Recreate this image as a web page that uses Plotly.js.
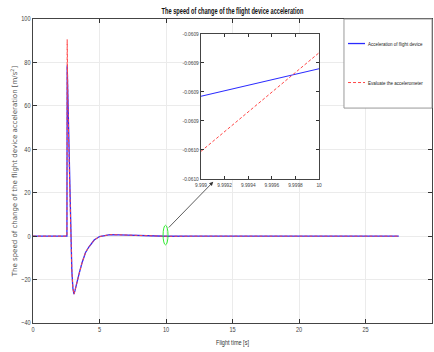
<!DOCTYPE html>
<html>
<head>
<meta charset="utf-8">
<script src="https://cdn.plot.ly/plotly-3.0.1.min.js"></script>
<style>html,body{margin:0;padding:0;background:#fff;}#chart{width:434px;height:352px;}</style>
</head>
<body>
<div id="chart"></div>
<script>
// ---- data ----
var flightTime = [0, 2.55, 2.57, 2.58, 2.62, 2.7, 2.78, 2.85, 2.92, 3.0, 3.08, 3.16, 3.3, 3.5, 3.7, 3.95, 4.2, 4.6, 5.0, 5.4, 5.8, 6.5, 7.5, 8.5, 10, 12, 16, 20, 24, 27.5];
var accelDevice = [0, 0, 78.7, 76, 63, 39, 15, -5, -16, -24, -26.7, -25, -21, -16.5, -12, -7.5, -5, -1.8, -0.2, 0.4, 0.7, 0.6, 0.4, 0.2, -0.06, 0, 0, 0, 0, 0];
var accelEval   = [0, 0, 90.5, 76, 63, 39, 15, -5, -16, -24, -26.7, -25, -21, -16.5, -12, -7.5, -5, -1.8, -0.2, 0.4, 0.7, 0.6, 0.4, 0.2, -0.06, 0, 0, 0, 0, 0];

var zoomTime   = [9.999, 10];
var zoomDevice = [-0.060923, -0.060904];
var zoomEval   = [-0.060961, -0.060893];

var xTicks = [0, 5, 10, 15, 20, 25, 30];
var yTicks = [-40, -20, 0, 20, 40, 60, 80, 100];
var zoomXTicks  = [9.999, 9.9992, 9.9994, 9.9996, 9.9998, 10];
var zoomXLabels = ['9.999', '9.9992', '9.9994', '9.9996', '9.9998', '10'];
var zoomYTicks  = [-0.06098, -0.06096, -0.06094, -0.06092, -0.0609, -0.06088];
var zoomYLabels = ['-0.0610', '-0.0610', '-0.0609', '-0.0609', '-0.0609', '-0.0609'];

var seriesNames = ['Acceleration of flight device', 'Evaluate the accelerometer'];

// ---- styles ----
var NARROW = 'Liberation Sans, Arial, sans-serif';
var BLUE = '#2a2aff', RED = '#ff4646';
var tickFont = {family: NARROW, size: 7, color: '#444'};

var traces = [
  {x: flightTime, y: accelDevice, type: 'scatter', mode: 'lines', name: seriesNames[0],
   legendgroup: 'g1', line: {color: BLUE, width: 1.3}, xaxis: 'x', yaxis: 'y'},
  {x: flightTime, y: accelEval, type: 'scatter', mode: 'lines', name: seriesNames[1],
   legendgroup: 'g2', line: {color: RED, width: 1, dash: '3px,2px'}, xaxis: 'x', yaxis: 'y'},
  {x: zoomTime, y: zoomDevice, type: 'scatter', mode: 'lines', showlegend: false,
   line: {color: BLUE, width: 1.1}, xaxis: 'x2', yaxis: 'y2'},
  {x: zoomTime, y: zoomEval, type: 'scatter', mode: 'lines', showlegend: false,
   line: {color: RED, width: 1, dash: '3px,2px'}, xaxis: 'x2', yaxis: 'y2'}
];

var axisCommon = {
  ticks: 'inside', ticklen: 4, tickcolor: '#333', tickwidth: 1,
  showline: true, linecolor: '#444', linewidth: 1, mirror: 'ticks',
  zeroline: false, tickfont: tickFont
};

var layout = {
  width: 434, height: 352,
  margin: {l: 33, r: 2, t: 19, b: 29, pad: 0, autoexpand: false},
  paper_bgcolor: '#fff', plot_bgcolor: '#fff',
  title: {text: '<b>The speed of change of the flight device acceleration</b>',
          font: {family: NARROW, size: 8.5, color: '#111'},
          xref: 'paper', x: 0.5, xanchor: 'center', yref: 'container', y: 0.969, yanchor: 'middle'},
  xaxis: Object.assign({}, axisCommon, {
    range: [0, 30], tickvals: xTicks, showgrid: true, gridcolor: '#ebebeb', gridwidth: 1,
    title: {text: 'Flight time [s]', font: {family: NARROW, size: 8, color: '#333'}, standoff: 7}
  }),
  yaxis: Object.assign({}, axisCommon, {
    range: [-40, 100], tickvals: yTicks, showgrid: true, gridcolor: '#ebebeb', gridwidth: 1,
    title: {text: 'The speed of change of the flight device acceleration [m/s<sup>2</sup>]',
            font: {family: 'DejaVu Sans, sans-serif', size: 7, color: '#555'}, standoff: 0}
  }),
  xaxis2: Object.assign({}, axisCommon, {
    domain: [0.421, 0.717], anchor: 'y2', range: [9.999, 10],
    tickvals: zoomXTicks, ticktext: zoomXLabels, showgrid: false, ticklen: 3,
    tickfont: {family: NARROW, size: 6, color: '#444'}
  }),
  yaxis2: Object.assign({}, axisCommon, {
    domain: [0.474, 0.951], anchor: 'x2', range: [-0.06098, -0.06088],
    tickvals: zoomYTicks, ticktext: zoomYLabels, showgrid: false, ticklen: 3,
    tickfont: {family: NARROW, size: 6, color: '#444'}
  }),
  showlegend: true,
  legend: {x: 0.777, y: 0.967, xanchor: 'left', yanchor: 'top', bgcolor: 'rgba(0,0,0,0)',
           borderwidth: 0, tracegroupgap: 20, traceorder: 'grouped',
           font: {family: NARROW, size: 6, color: '#222'}},
  shapes: [
    {type: 'rect', xref: 'paper', yref: 'paper', x0: 0.7794, x1: 1.0, y0: 0.707, y1: 1.0,
     fillcolor: '#fff', line: {color: '#999', width: 1}, layer: 'above'},
    {type: 'circle', xref: 'x', yref: 'y', x0: 9.78, x1: 10.15, y0: -4, y1: 5,
     line: {color: '#33ee33', width: 1}, layer: 'above'}
  ],
  annotations: [
    {x: 13.55, y: 25, ax: 10.1, ay: 3.3, xref: 'x', yref: 'y', axref: 'x', ayref: 'y',
     text: '', showarrow: true, arrowhead: 2, arrowsize: 1, arrowwidth: 0.8, arrowcolor: '#333'}
  ]
};

// horizontally condense text (the reference uses a narrow typeface)
function squeeze(el, f) {
  if (el.getAttribute('data-sq')) return;
  el.setAttribute('data-sq', '1');
  var ax = parseFloat(el.getAttribute('x')) || 0;
  var tr = el.getAttribute('transform') || '';
  el.setAttribute('transform', tr + ' translate(' + ax + ',0) scale(' + f + ',1) translate(' + (-ax) + ',0)');
}
function squeezeAll(sel, f) {
  document.querySelectorAll(sel).forEach(function (el) { squeeze(el, f); });
}
function fitWidth(sel, target) {
  document.querySelectorAll(sel).forEach(function (el) {
    if (el.getAttribute('data-sq')) return;
    var w = el.getBBox().width;
    if (w > 0) squeeze(el, target / w);
  });
}
function polish() {
  fitWidth('.gtitle', 142);
  fitWidth('.xtitle', 33);
  squeezeAll('.xtick text, .ytick text, .x2tick text, .y2tick text', 0.8);
  // shorter legend samples like the reference
  document.querySelectorAll('g.legendlines path').forEach(function (p) {
    if (p.getAttribute('d') !== 'M5,0h17') p.setAttribute('d', 'M5,0h17');
  });
  document.querySelectorAll('text.legendtext').forEach(function (t) {
    if (t.getAttribute('data-sq')) return;
    t.setAttribute('x', 25);
    var w = t.getBBox().width;
    if (w > 0) squeeze(t, 55 / w);
  });
}

var gd = document.getElementById('chart');
Plotly.newPlot(gd, traces, layout, {displayModeBar: false, staticPlot: true}).then(function () {
  polish();
  new MutationObserver(function () { polish(); }).observe(gd, {childList: true, subtree: true});
});
</script>
</body>
</html>
